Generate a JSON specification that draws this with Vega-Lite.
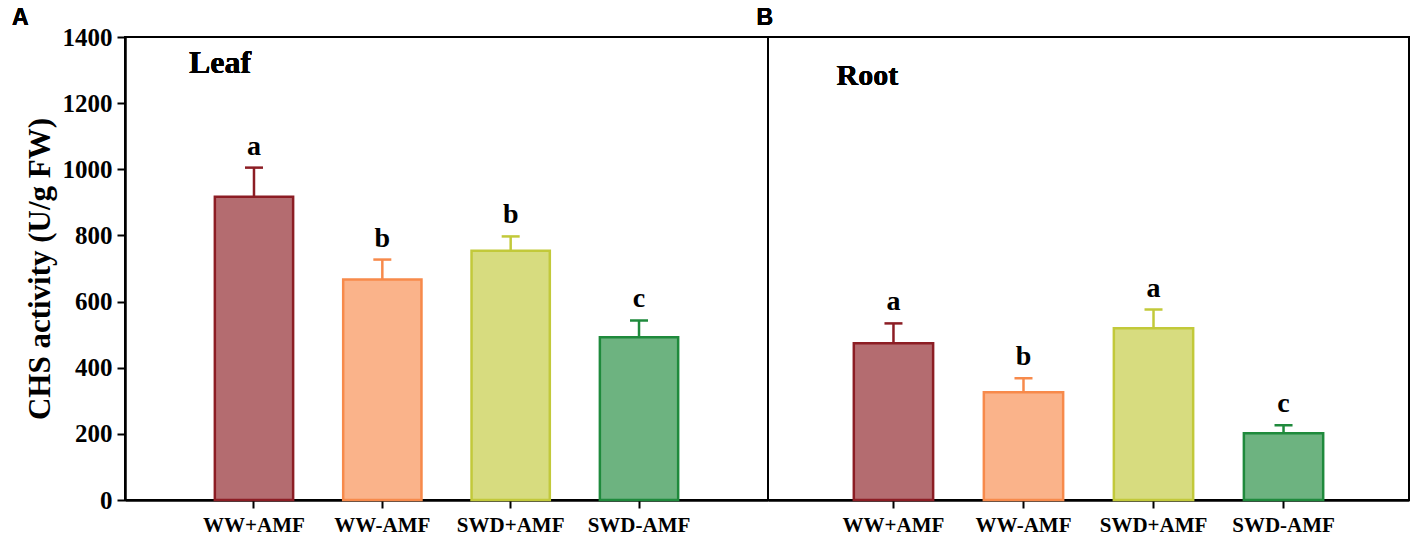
{
  "$schema": "https://vega.github.io/schema/vega-lite/v6.json",
  "padding": {"left": 10, "top": 6, "right": 8, "bottom": 4},
  "spacing": 0,
  "bounds": "flush",
  "data": {
    "values": [
      {"tissue": "Leaf", "group": "WW+AMF", "mean": 917, "upper": 1005, "letter": "a"},
      {"tissue": "Leaf", "group": "WW-AMF", "mean": 667, "upper": 727, "letter": "b"},
      {"tissue": "Leaf", "group": "SWD+AMF", "mean": 754, "upper": 797, "letter": "b"},
      {"tissue": "Leaf", "group": "SWD-AMF", "mean": 492, "upper": 543, "letter": "c"},
      {"tissue": "Root", "group": "WW+AMF", "mean": 474, "upper": 534, "letter": "a"},
      {"tissue": "Root", "group": "WW-AMF", "mean": 326, "upper": 368, "letter": "b"},
      {"tissue": "Root", "group": "SWD+AMF", "mean": 519, "upper": 576, "letter": "a"},
      {"tissue": "Root", "group": "SWD-AMF", "mean": 202, "upper": 226, "letter": "c"}
    ]
  },
  "hconcat": [
    {
      "width": 643,
      "height": 463,
      "transform": [{"filter": "datum.tissue === 'Leaf'"}],
      "encoding": {
        "x": {
          "field": "group",
          "type": "nominal",
          "sort": null,
          "scale": {"paddingInner": 0.39, "paddingOuter": 0.7},
          "axis": {"title": null, "labelAngle": 0, "labelFontSize": 21, "labelPadding": 6}
        }
      },
      "layer": [
        {
          "mark": {"type": "bar", "fillOpacity": 0.65, "strokeWidth": 2.5},
          "encoding": {
            "y": {
              "field": "mean",
              "type": "quantitative",
              "scale": {"domain": [0, 1400], "nice": false},
              "axis": {
                "values": [0, 200, 400, 600, 800, 1000, 1200, 1400],
                "format": "d",
                "title": "CHS activity (U/g FW)",
                "titleFontSize": 31,
                "titlePadding": 6,
                "labelFontSize": 25,
                "labelPadding": 5
              }
            },
            "fill": {"field": "group", "type": "nominal", "sort": null, "scale": {"domain": ["WW+AMF", "WW-AMF", "SWD+AMF", "SWD-AMF"], "range": ["#8c1d24", "#f78a4b", "#c2c93a", "#1f8a3c"]}, "legend": null},
            "stroke": {"field": "group", "type": "nominal", "sort": null, "scale": {"domain": ["WW+AMF", "WW-AMF", "SWD+AMF", "SWD-AMF"], "range": ["#8c1d24", "#f78a4b", "#c2c93a", "#1f8a3c"]}, "legend": null}
          }
        },
        {
          "mark": {"type": "rule", "strokeWidth": 2.5},
          "encoding": {
            "y": {"field": "mean", "type": "quantitative"},
            "y2": {"field": "upper"},
            "color": {"field": "group", "type": "nominal", "sort": null, "scale": {"domain": ["WW+AMF", "WW-AMF", "SWD+AMF", "SWD-AMF"], "range": ["#8c1d24", "#f78a4b", "#c2c93a", "#1f8a3c"]}, "legend": null}
          }
        },
        {
          "mark": {"type": "tick", "thickness": 2.5, "size": 18, "opacity": 1},
          "encoding": {
            "y": {"field": "upper", "type": "quantitative"},
            "color": {"field": "group", "type": "nominal", "sort": null, "scale": {"domain": ["WW+AMF", "WW-AMF", "SWD+AMF", "SWD-AMF"], "range": ["#8c1d24", "#f78a4b", "#c2c93a", "#1f8a3c"]}, "legend": null}
          }
        },
        {
          "mark": {"type": "text", "font": "Liberation Serif", "fontWeight": "bold", "fontSize": 28, "baseline": "bottom", "dy": -7, "color": "black"},
          "encoding": {
            "y": {"field": "upper", "type": "quantitative"},
            "text": {"field": "letter"}
          }
        },
        {
          "mark": {"type": "text", "text": "Leaf", "font": "Liberation Serif", "fontWeight": "bold", "fontSize": 32, "align": "left", "baseline": "alphabetic", "dx": -65, "color": "black"},
          "encoding": {
            "x": {"datum": "WW+AMF"},
            "y": {"datum": 1290}
          }
        },
        {
          "mark": {"type": "text", "text": "A", "font": "Liberation Sans", "fontWeight": "bold", "fontSize": 23, "align": "left", "baseline": "middle", "dx": -242, "dy": -19, "color": "black"},
          "encoding": {
            "x": {"datum": "WW+AMF"},
            "y": {"datum": 1400}
          }
        }
      ]
    },
    {
      "width": 641,
      "height": 463,
      "transform": [{"filter": "datum.tissue === 'Root'"}],
      "encoding": {
        "x": {
          "field": "group",
          "type": "nominal",
          "sort": null,
          "scale": {"paddingInner": 0.39, "paddingOuter": 0.66},
          "axis": {"title": null, "labelAngle": 0, "labelFontSize": 21, "labelPadding": 6}
        }
      },
      "layer": [
        {
          "mark": {"type": "bar", "fillOpacity": 0.65, "strokeWidth": 2.5},
          "encoding": {
            "y": {
              "field": "mean",
              "type": "quantitative",
              "scale": {"domain": [0, 1400], "nice": false},
              "axis": null
            },
            "fill": {"field": "group", "type": "nominal", "sort": null, "scale": {"domain": ["WW+AMF", "WW-AMF", "SWD+AMF", "SWD-AMF"], "range": ["#8c1d24", "#f78a4b", "#c2c93a", "#1f8a3c"]}, "legend": null},
            "stroke": {"field": "group", "type": "nominal", "sort": null, "scale": {"domain": ["WW+AMF", "WW-AMF", "SWD+AMF", "SWD-AMF"], "range": ["#8c1d24", "#f78a4b", "#c2c93a", "#1f8a3c"]}, "legend": null}
          }
        },
        {
          "mark": {"type": "rule", "strokeWidth": 2.5},
          "encoding": {
            "y": {"field": "mean", "type": "quantitative"},
            "y2": {"field": "upper"},
            "color": {"field": "group", "type": "nominal", "sort": null, "scale": {"domain": ["WW+AMF", "WW-AMF", "SWD+AMF", "SWD-AMF"], "range": ["#8c1d24", "#f78a4b", "#c2c93a", "#1f8a3c"]}, "legend": null}
          }
        },
        {
          "mark": {"type": "tick", "thickness": 2.5, "size": 18, "opacity": 1},
          "encoding": {
            "y": {"field": "upper", "type": "quantitative"},
            "color": {"field": "group", "type": "nominal", "sort": null, "scale": {"domain": ["WW+AMF", "WW-AMF", "SWD+AMF", "SWD-AMF"], "range": ["#8c1d24", "#f78a4b", "#c2c93a", "#1f8a3c"]}, "legend": null}
          }
        },
        {
          "mark": {"type": "text", "font": "Liberation Serif", "fontWeight": "bold", "fontSize": 28, "baseline": "bottom", "dy": -7, "color": "black"},
          "encoding": {
            "y": {"field": "upper", "type": "quantitative"},
            "text": {"field": "letter"}
          }
        },
        {
          "mark": {"type": "text", "text": "Root", "font": "Liberation Serif", "fontWeight": "bold", "fontSize": 30, "align": "left", "baseline": "alphabetic", "dx": -57, "color": "black"},
          "encoding": {
            "x": {"datum": "WW+AMF"},
            "y": {"datum": 1255}
          }
        },
        {
          "mark": {"type": "text", "text": "B", "font": "Liberation Sans", "fontWeight": "bold", "fontSize": 23, "align": "left", "baseline": "middle", "dx": -137, "dy": -19, "color": "black"},
          "encoding": {
            "x": {"datum": "WW+AMF"},
            "y": {"datum": 1400}
          }
        }
      ]
    }
  ],
  "config": {
    "view": {"stroke": "black", "strokeWidth": 2},
    "axis": {
      "grid": false,
      "domainColor": "black",
      "domainWidth": 2.5,
      "tickColor": "black",
      "tickWidth": 2,
      "tickSize": 8,
      "labelFont": "Liberation Serif",
      "labelFontWeight": "bold",
      "labelColor": "black",
      "titleFont": "Liberation Serif",
      "titleFontWeight": "bold",
      "titleColor": "black"
    }
  }
}
